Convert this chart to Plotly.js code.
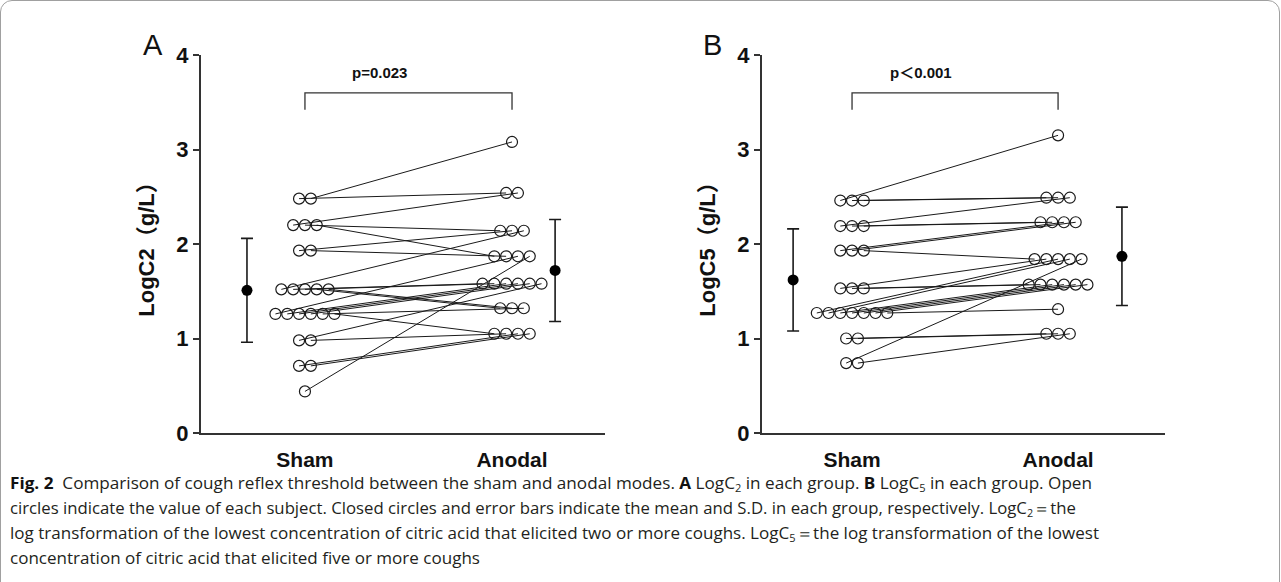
<!DOCTYPE html>
<html><head><meta charset="utf-8">
<script src="https://cdn.plot.ly/plotly-3.0.1.min.js"></script>
<style>
html,body{margin:0;padding:0;background:#fff;width:1281px;height:582px;overflow:hidden;}
#frame{position:absolute;left:0;top:0;width:1278px;height:660px;border:1px solid #a0a0a0;border-radius:12px;}
#plot{position:absolute;left:0;top:0;width:1281px;height:582px;}
.cap{position:absolute;left:10px;white-space:nowrap;font-family:"Open Sans","Noto Sans",sans-serif;font-size:15.5px;line-height:20px;color:#231f20;transform-origin:0 50%;}
.cap b{font-weight:700;color:#111;}
.cap sub{font-size:10px;vertical-align:-3px;line-height:0;}
</style></head>
<body>
<div id="frame"></div>
<div id="plot"></div>
<div class="cap" id="c1" data-w="1082" style="top:473px"><b>Fig. 2</b>&nbsp; Comparison of cough reflex threshold between the sham and anodal modes. <b>A</b> LogC<sub>2</sub> in each group. <b>B</b> LogC<sub>5</sub> in each group. Open</div>
<div class="cap" id="c2" data-w="1066" style="top:498px">circles indicate the value of each subject. Closed circles and error bars indicate the mean and S.D. in each group, respectively. LogC<sub>2</sub>＝the</div>
<div class="cap" id="c3" data-w="1089" style="top:523px">log transformation of the lowest concentration of citric acid that elicited two or more coughs. LogC<sub>5</sub>＝the log transformation of the lowest</div>
<div class="cap" id="c4" data-like="c3" style="top:548px">concentration of citric acid that elicited five or more coughs</div>
<script>
// ---------------- data ----------------
const categories = ['Sham', 'Anodal'];
// Panel A: LogC2 per subject (paired)
const shamA   = [2.48, 2.48, 2.20, 2.20, 2.20, 1.93, 1.93, 1.52, 1.52, 1.52, 1.52, 1.52, 1.26, 1.26, 1.26, 1.26, 1.26, 1.26, 0.98, 0.98, 0.71, 0.71, 0.44];
const anodalA = [2.54, 3.08, 2.54, 2.14, 1.87, 2.14, 1.87, 2.14, 1.58, 1.58, 1.32, 1.32, 1.87, 1.58, 1.58, 1.58, 1.32, 1.05, 1.58, 1.05, 1.05, 1.05, 1.87];
// Panel B: LogC5 per subject (paired)
const shamB   = [2.46, 2.46, 2.46, 2.19, 2.19, 2.19, 1.93, 1.93, 1.93, 1.53, 1.53, 1.53, 1.27, 1.27, 1.27, 1.27, 1.27, 1.27, 1.27, 1.00, 1.00, 0.74, 0.74];
const anodalB = [3.15, 2.49, 2.49, 2.49, 2.23, 2.23, 2.23, 2.23, 1.84, 1.84, 1.57, 1.57, 1.84, 1.84, 1.57, 1.57, 1.57, 1.57, 1.31, 1.05, 1.05, 1.84, 1.05];
// group mean and S.D.
const meanA = [1.51, 1.72];
const sdA   = [0.55, 0.54];
const meanB = [1.62, 1.87];
const sdB   = [0.54, 0.52];
const pLabels = ['p=0.023', 'p＜0.001'];
const yTickVals = [0, 1, 2, 3, 4];
const yTitles = ['LogC2（g/L）', 'LogC5（g/L）'];
const panelLetters = ['A', 'B'];

// ---------------- layout constants ----------------
const W = 1281, H = 582;
const FONT = 'Liberation Sans, Arial, Noto Sans CJK SC, sans-serif';
const INK = '#1a1a1a';
const STEP = 0.057;              // dodge step (data units)
const meanXA = [0.72, 2.208];    // where the mean/SD markers sit
const meanXB = [0.714, 2.31];

function dodge(vals, center, step) {
  const groups = new Map();
  vals.forEach((v, i) => { if (!groups.has(v)) groups.set(v, []); groups.get(v).push(i); });
  const xs = new Array(vals.length);
  groups.forEach(idx => { const n = idx.length; idx.forEach((i, k) => { xs[i] = center + (k - (n - 1) / 2) * step; }); });
  return xs;
}

function panelTraces(sham, anodal, mean, sd, meanX, xa, ya) {
  const xs = dodge(sham, 1, STEP), xn = dodge(anodal, 2, STEP);
  const lx = [], ly = [];
  sham.forEach((v, i) => { lx.push(xs[i], xn[i], null); ly.push(v, anodal[i], null); });
  return [
    {type: 'scatter', mode: 'lines', x: lx, y: ly, xaxis: xa, yaxis: ya,
     line: {color: INK, width: 1}, hoverinfo: 'skip', showlegend: false},
    {type: 'scatter', mode: 'markers', x: xs.concat(xn), y: sham.concat(anodal), xaxis: xa, yaxis: ya,
     marker: {symbol: 'circle-open', size: 11, color: INK, line: {width: 1.2, color: INK}}, showlegend: false},
    {type: 'scatter', mode: 'markers', x: meanX, y: mean, xaxis: xa, yaxis: ya,
     error_y: {type: 'data', array: sd, visible: true, color: INK, thickness: 1.6, width: 6},
     marker: {symbol: 'circle', size: 11, color: '#000'}, showlegend: false}
  ];
}

const data = [
  ...panelTraces(shamA, anodalA, meanA, sdA, meanXA, 'x', 'y'),
  ...panelTraces(shamB, anodalB, meanB, sdB, meanXB, 'x2', 'y2')
];

const yDom = [(H - 433) / H, (H - 55) / H];
function xAxis(dom, range) {
  return {domain: dom, range: range, tickvals: [1, 2], ticktext: categories,
    ticks: 'outside', ticklen: 7, tickcolor: 'rgba(0,0,0,0)',
    tickfont: {family: FONT, size: 21, color: '#111', weight: 'bold'},
    showline: true, linecolor: '#333', linewidth: 2, showgrid: false, zeroline: false, fixedrange: true};
}
function yAxis(anchor, title) {
  return {domain: yDom, range: [0, 4], anchor: anchor, tickvals: yTickVals,
    ticks: 'outside', ticklen: 6, tickwidth: 2, tickcolor: '#333',
    tickfont: {family: FONT, size: 22, color: '#111', weight: 'bold'},
    showline: true, linecolor: '#333', linewidth: 2, showgrid: false, zeroline: false,
    title: {text: title, font: {family: FONT, size: 22, color: '#111', weight: 'bold'}, standoff: 16}};
}

function bracket(xref, yref) {
  return {type: 'path', xref: xref, yref: yref, path: 'M 1,3.42 L 1,3.6 L 2,3.6 L 2,3.42',
    line: {color: '#333', width: 1.3}};
}

const layout = {
  width: W, height: H, margin: {l: 0, r: 0, t: 0, b: 0},
  paper_bgcolor: 'rgba(0,0,0,0)', plot_bgcolor: 'rgba(0,0,0,0)', showlegend: false,
  xaxis: xAxis([201 / W, 605 / W], [0.498, 2.449]),
  yaxis: yAxis('x', yTitles[0]),
  xaxis2: xAxis([762 / W, 1165 / W], [0.563, 2.519]),
  yaxis2: yAxis('x2', yTitles[1]),
  shapes: [bracket('x', 'y'), bracket('x2', 'y2')],
  annotations: [
    {xref: 'x', yref: 'y', x: 1.36, y: 3.82, text: pLabels[0], showarrow: false,
     font: {family: FONT, size: 15, color: '#111', weight: 'bold'}},
    {xref: 'x2', yref: 'y2', x: 1.335, y: 3.82, text: pLabels[1], showarrow: false,
     font: {family: FONT, size: 15, color: '#111', weight: 'bold'}},
    {xref: 'paper', yref: 'paper', x: 153 / W, y: (H - 45) / H, text: panelLetters[0], showarrow: false,
     xanchor: 'center', yanchor: 'middle', font: {family: FONT, size: 29, color: '#111'}},
    {xref: 'paper', yref: 'paper', x: 713 / W, y: (H - 45) / H, text: panelLetters[1], showarrow: false,
     xanchor: 'center', yanchor: 'middle', font: {family: FONT, size: 29, color: '#111'}}
  ]
};

Plotly.newPlot('plot', data, layout, {staticPlot: true, displayModeBar: false});

function fitCaption() {
  const scales = {};
  document.querySelectorAll('.cap').forEach(el => {
    el.style.transform = 'none';
    const w = el.getBoundingClientRect().width;
    let s = 1;
    if (el.dataset.w && w > 0) s = parseFloat(el.dataset.w) / w;
    else if (el.dataset.like && scales[el.dataset.like]) s = scales[el.dataset.like];
    scales[el.id] = s;
    el.style.transform = 'scaleX(' + s + ')';
  });
}
fitCaption();
if (document.fonts && document.fonts.ready) document.fonts.ready.then(fitCaption);
</script>
</body></html>
